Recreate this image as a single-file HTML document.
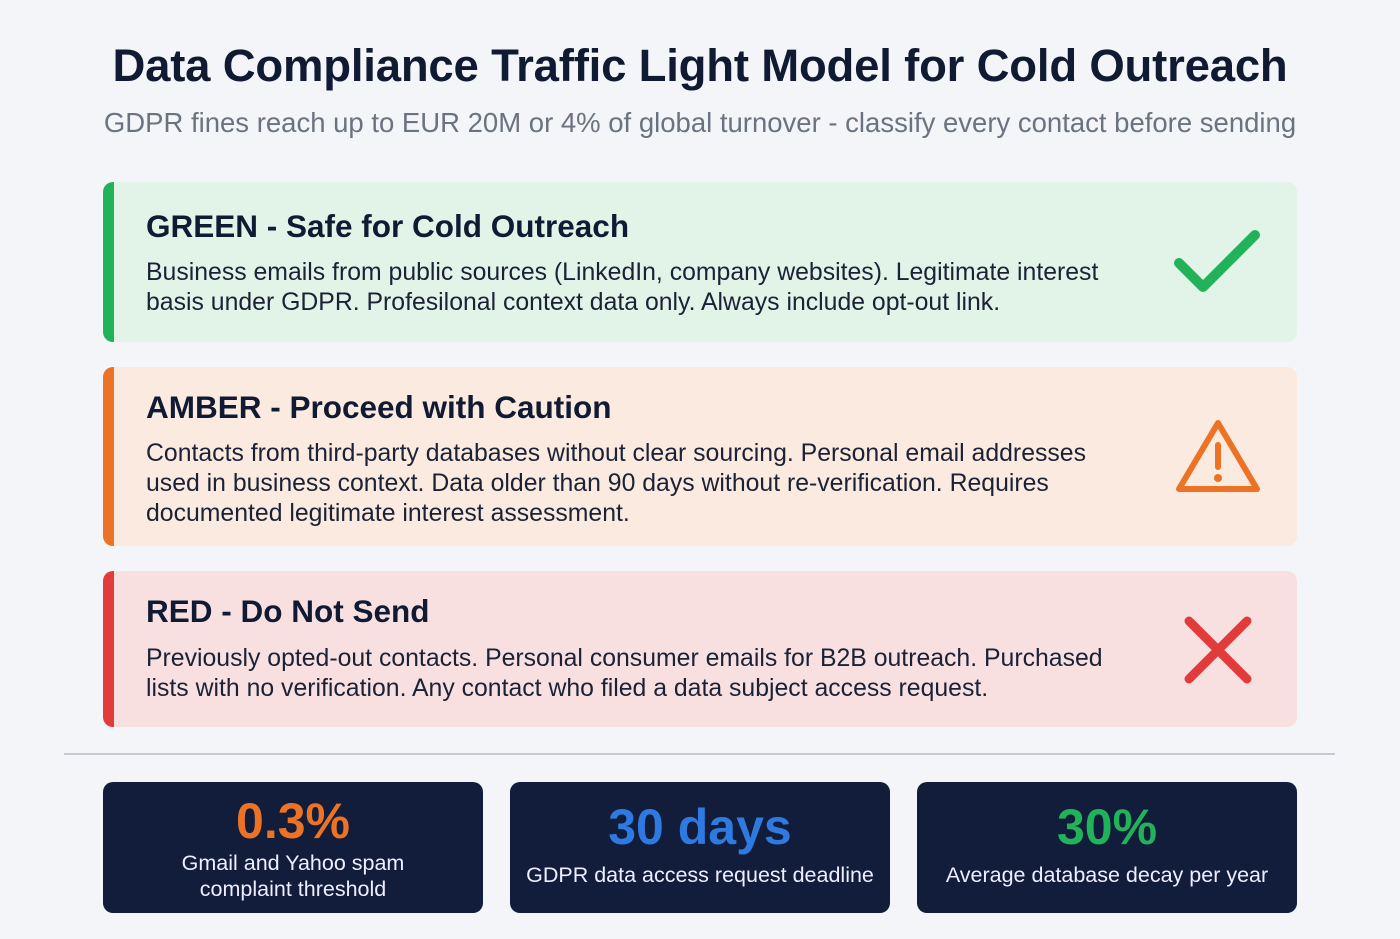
<!DOCTYPE html>
<html><head><meta charset="utf-8"><style>
*{margin:0;padding:0;box-sizing:border-box}
body{width:1400px;height:939px;background:#f3f5f8;font-family:"Liberation Sans",sans-serif;position:relative;overflow:hidden;color:#111a33}
.t{position:absolute;left:0;width:1400px;text-align:center}
h1{position:absolute;left:0;width:1400px;text-align:center;top:40px;font-size:45.5px;font-weight:bold;color:#111a33;letter-spacing:-0.2px}
.sub{top:107px;font-size:27.5px;color:#6b7280}
.card{position:absolute;left:103px;width:1194px;border-radius:10px;overflow:hidden}
.card .bar{position:absolute;left:0;top:0;bottom:0;width:11px}
.card h2{position:absolute;left:43px;font-size:31.5px;font-weight:bold;color:#111a33}
.card p{position:absolute;left:43px;font-size:24.8px;line-height:30px;color:#1b2236;width:1100px;white-space:nowrap}
.card svg{position:absolute}
.stat{position:absolute;top:782px;width:380px;height:131px;background:#111d3a;border-radius:10px;text-align:center;color:#fff}
.stat .n{position:absolute;left:0;width:100%;font-size:50px;font-weight:bold}
.stat .l{position:absolute;left:0;width:100%;font-size:21.5px;line-height:26px;color:#eef}
</style></head><body>
<h1>Data Compliance Traffic Light Model for Cold Outreach</h1>
<div class="t sub">GDPR fines reach up to EUR 20M or 4% of global turnover - classify every contact before sending</div>

<div class="card" style="top:182px;height:160px;background:#e2f4e8">
<div class="bar" style="background:#22b35a"></div>
<h2 style="top:26px">GREEN - Safe for Cold Outreach</h2>
<p style="top:76px">Business emails from public sources (LinkedIn, company websites). Legitimate interest<br>basis under GDPR. Profesilonal context data only. Always include opt-out link.</p>
<svg style="left:1070px;top:45px" width="90" height="70"><polyline points="6,36 30,60 82,8" fill="none" stroke="#22b35a" stroke-width="10" stroke-linecap="round" stroke-linejoin="round"/></svg>
</div>

<div class="card" style="top:367px;height:179px;background:#fbeadf">
<div class="bar" style="background:#ec7326"></div>
<h2 style="top:22px">AMBER - Proceed with Caution</h2>
<p style="top:72px">Contacts from third-party databases without clear sourcing. Personal email addresses<br>used in business context. Data older than 90 days without re-verification. Requires<br>documented legitimate interest assessment.</p>
<svg style="left:1070px;top:50px" width="90" height="80"><path d="M45 6 L84 72 L6 72 Z" fill="none" stroke="#ec7326" stroke-width="6" stroke-linejoin="round"/><line x1="45" y1="28" x2="45" y2="50" stroke="#ec7326" stroke-width="6" stroke-linecap="round"/><circle cx="45" cy="61" r="4" fill="#ec7326"/></svg>
</div>

<div class="card" style="top:571px;height:156px;background:#f8e0e0">
<div class="bar" style="background:#e23b3b"></div>
<h2 style="top:22px">RED - Do Not Send</h2>
<p style="top:73px">Previously opted-out contacts. Personal consumer emails for B2B outreach. Purchased<br>lists with no verification. Any contact who filed a data subject access request.</p>
<svg style="left:1078px;top:42px" width="74" height="74"><path d="M8 8 L66 66 M66 8 L8 66" stroke="#e23b3b" stroke-width="9" stroke-linecap="round"/></svg>
</div>

<div style="position:absolute;left:64px;top:753px;width:1271px;height:2px;background:#c4c9d2"></div>

<div class="stat" style="left:103px"><div class="n" style="top:10px;color:#ec7326">0.3%</div><div class="l" style="top:68px">Gmail and Yahoo spam<br>complaint threshold</div></div>
<div class="stat" style="left:510px"><div class="n" style="top:16px;color:#2f7ae0">30 days</div><div class="l" style="top:80px">GDPR data access request deadline</div></div>
<div class="stat" style="left:917px"><div class="n" style="top:16px;color:#22b35a">30%</div><div class="l" style="top:80px">Average database decay per year</div></div>
</body></html>
